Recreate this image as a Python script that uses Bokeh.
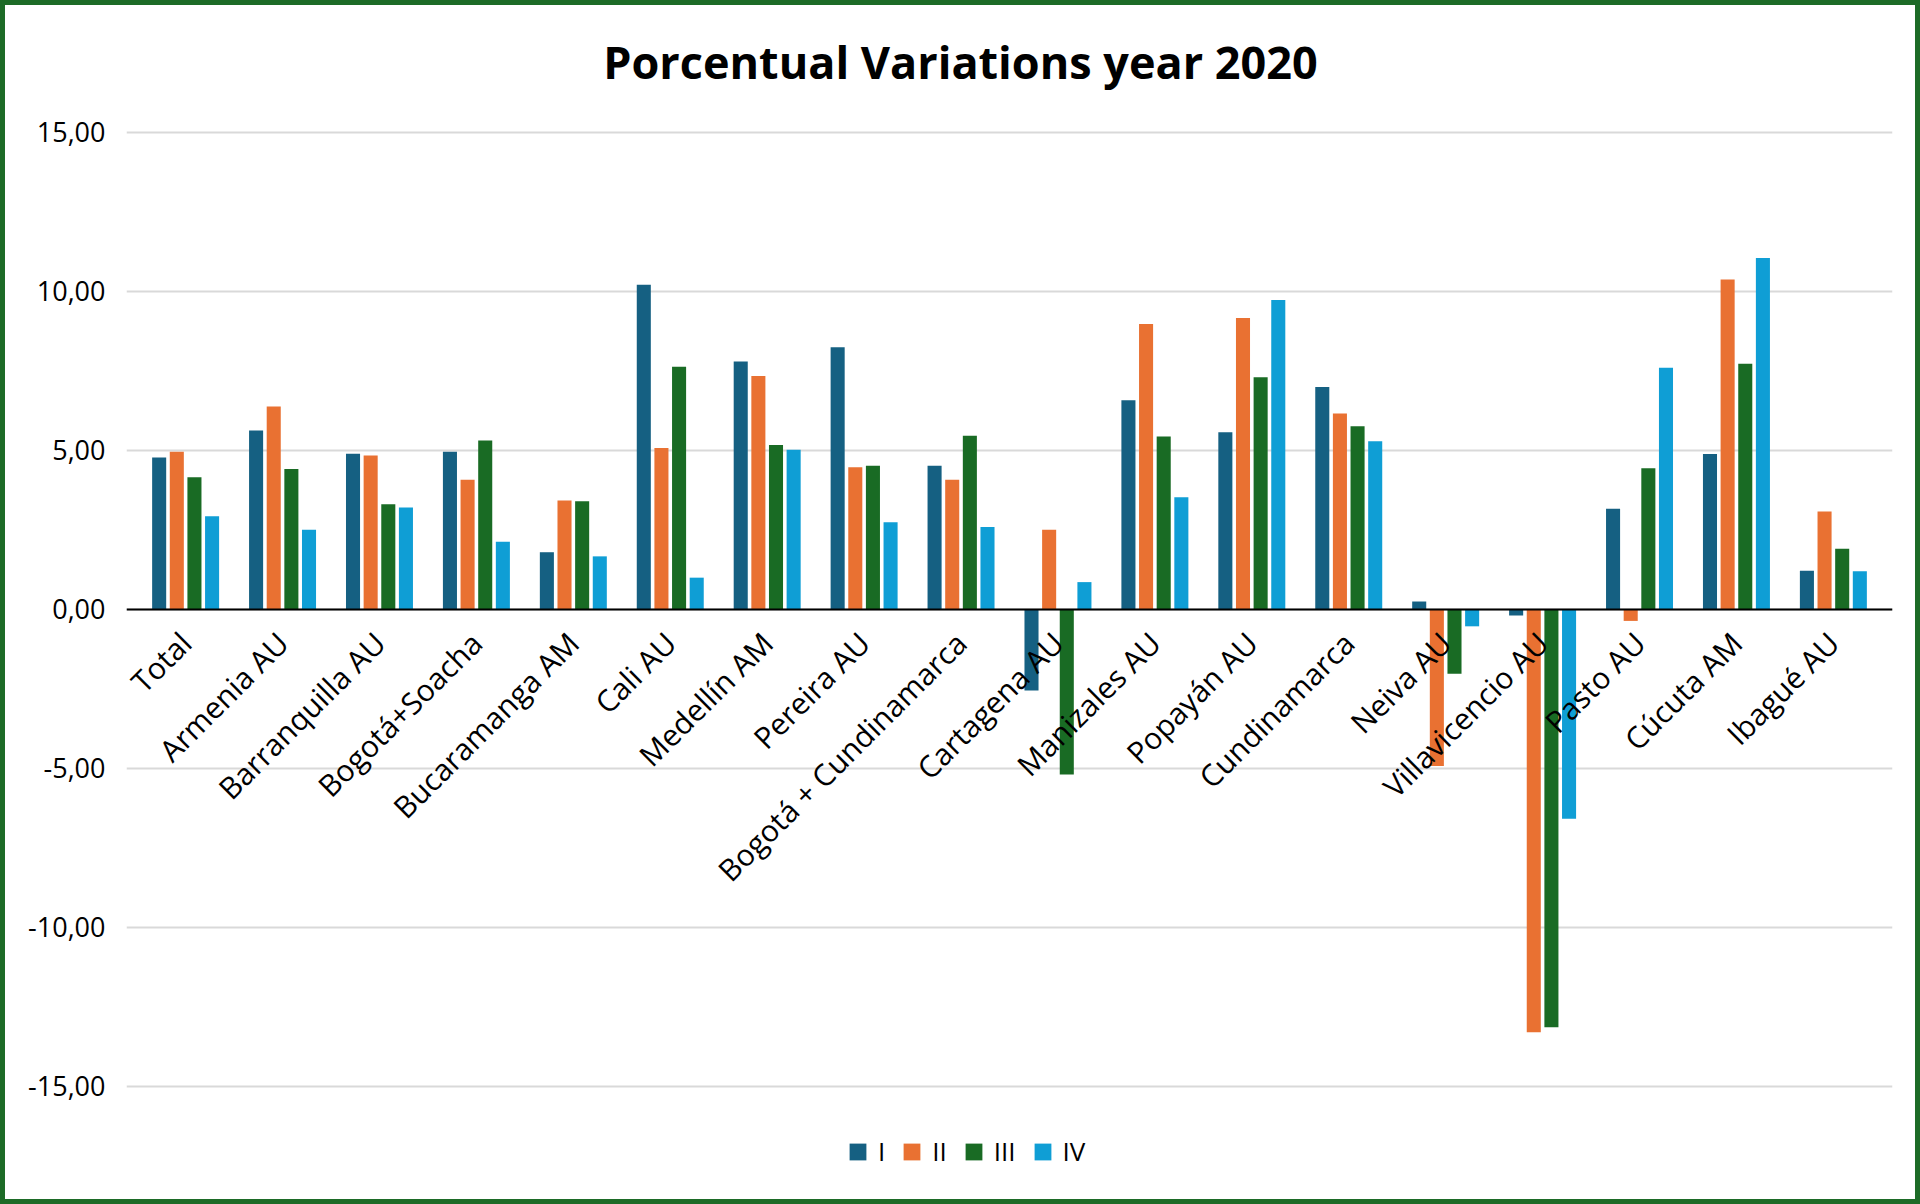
import math
from bokeh.plotting import figure
from bokeh.models import (ColumnDataSource, FactorRange, Range1d, FixedTicker,
                          Legend, LegendItem, Label)
from bokeh.transform import dodge
from bokeh.embed import file_html
from bokeh.resources import INLINE

categories = ["Total", "Armenia AU", "Barranquilla AU", "Bogotá+Soacha", "Bucaramanga AM",
              "Cali AU", "Medellín AM", "Pereira AU", "Bogotá + Cundinamarca", "Cartagena AU",
              "Manizales AU", "Popayán AU", "Cundinamarca", "Neiva AU", "Villavicencio AU",
              "Pasto AU", "Cúcuta AM", "Ibagué AU"]
q1 = [4.78, 5.63, 4.90, 4.96, 1.80, 10.21, 7.80, 8.25, 4.52, -2.55, 6.58, 5.57, 7.00, 0.25, -0.19, 3.17, 4.89, 1.22]
q2 = [4.96, 6.38, 4.84, 4.08, 3.43, 5.08, 7.34, 4.47, 4.08, 2.51, 8.98, 9.17, 6.16, -4.92, -13.30, -0.36, 10.38, 3.08]
q3 = [4.16, 4.42, 3.31, 5.31, 3.40, 7.63, 5.17, 4.52, 5.46, -5.19, 5.44, 7.30, 5.76, -2.02, -13.14, 4.44, 7.73, 1.91]
q4 = [2.93, 2.51, 3.21, 2.13, 1.67, 1.00, 5.02, 2.74, 2.59, 0.86, 3.53, 9.73, 5.29, -0.53, -6.58, 7.60, 11.05, 1.20]
series_names = ["I", "II", "III", "IV"]
series_colors = ["#156082", "#E97132", "#196B24", "#0F9ED5"]
y_ticks = [-15, -10, -5, 0, 5, 10, 15]
y_tick_labels = ["-15,00", "-10,00", "-5,00", "0,00", "5,00", "10,00", "15,00"]
title_text = "Porcentual Variations year 2020"

FONT = "Open Sans"

source = ColumnDataSource(data=dict(cat=categories, I=q1, II=q2, III=q3, IV=q4))

x_range = FactorRange(*categories, range_padding=0.11, range_padding_units="absolute")
p = figure(width=1910, height=1194, x_range=x_range,
           y_range=Range1d(-17.99, 18.994), output_backend="svg", toolbar_location=None,
           min_border_left=121, min_border_right=23, min_border_top=0, min_border_bottom=18)
p.title.text = ""
p.title.visible = False
p.outline_line_color = None
p.background_fill_color = "white"
p.border_fill_color = "white"

# chart title, placed inside the frame area above the plotted values
title = Label(x=834, y=1120, x_units="screen", y_units="screen", text=title_text,
              text_align="center", text_baseline="middle", text_font=FONT,
              text_font_style="bold", text_font_size="45px", text_color="black")
p.add_layout(title)

offsets = [-0.273, -0.091, 0.091, 0.273]
renderers = []
for name, col, off in zip(series_names, series_colors, offsets):
    r = p.vbar(x=dodge("cat", off, range=p.x_range), top=name, bottom=0, width=0.145,
               source=source, fill_color=col, line_color=None)
    renderers.append(r)

# x axis drawn at zero
xa = p.xaxis[0]
xa.fixed_location = 0
xa.major_label_orientation = math.pi / 4
xa.axis_line_color = "black"
xa.axis_line_width = 2
xa.major_tick_line_color = None
xa.minor_tick_line_color = None
xa.major_label_text_font = FONT
xa.major_label_text_font_size = "30px"
xa.major_label_text_color = "black"
xa.major_label_standoff = 22

ya = p.yaxis[0]
ya.ticker = FixedTicker(ticks=y_ticks)
ya.major_label_overrides = {t: s for t, s in zip(y_ticks, y_tick_labels)}
ya.axis_line_color = None
ya.major_tick_line_color = None
ya.minor_tick_line_color = None
ya.major_tick_in = 0
ya.major_tick_out = 0
ya.major_label_standoff = 21
ya.major_label_text_font = FONT
ya.major_label_text_font_size = "27px"
ya.major_label_text_color = "black"

p.xgrid.grid_line_color = None
p.ygrid.ticker = FixedTicker(ticks=y_ticks)
p.ygrid.grid_line_color = "#D9D9D9"
p.ygrid.grid_line_width = 2

legend = Legend(items=[LegendItem(label=n, renderers=[r]) for n, r in zip(series_names, renderers)],
                orientation="horizontal", location=(721, 12),
                glyph_width=21, glyph_height=21, label_standoff=10, label_width=0, spacing=16,
                label_text_font=FONT, label_text_font_size="26px", label_text_color="black",
                border_line_color=None, background_fill_alpha=0, padding=0, margin=0)
p.add_layout(legend)

html = file_html(p, INLINE)
page_css = ("<style>html{margin:0;padding:0;}"
            "body{margin:0;padding:0;border:5px solid #1D6B27;box-sizing:border-box;"
            "width:1920px;height:1204px;overflow:hidden;}</style>")
html = html.replace("</head>", page_css + "</head>", 1)
open("out.html", "w").write(html)
